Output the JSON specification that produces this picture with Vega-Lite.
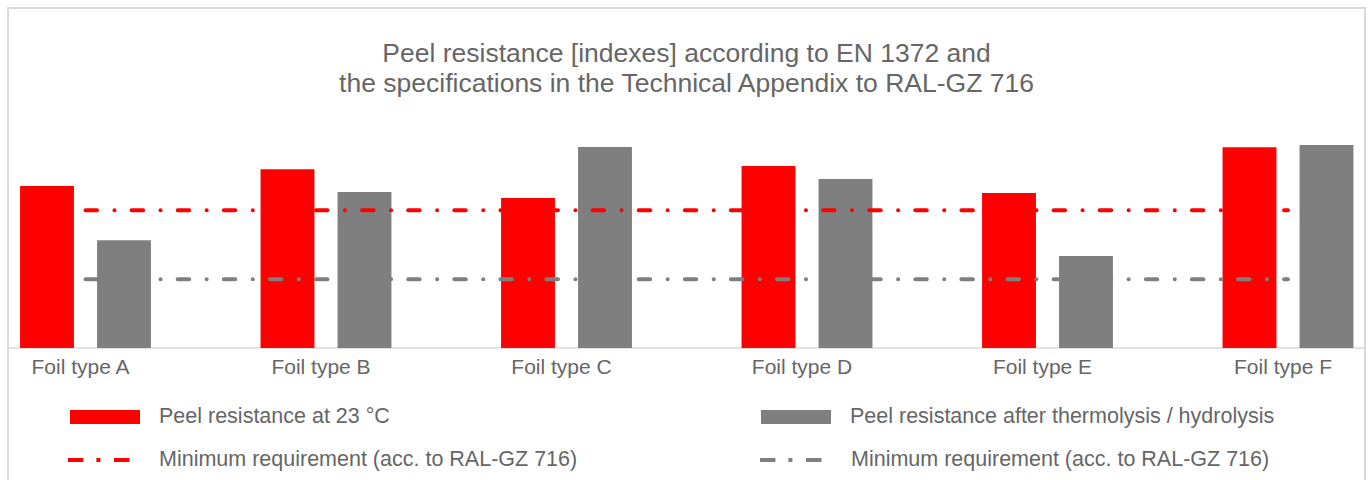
{
  "$schema": "https://vega.github.io/schema/vega-lite/v6.json",
  "width": 1357,
  "height": 475,
  "autosize": {"type": "none"},
  "padding": {"left": 8, "top": 8, "right": 5, "bottom": -3},
  "background": "white",
  "config": {
    "view": {"stroke": "#d9d9d9", "strokeWidth": 2},
    "font": "Liberation Sans"
  },
  "title": {
    "text": ["Peel resistance [indexes] according to EN 1372 and", "the specifications in the Technical Appendix to RAL-GZ 716"],
    "anchor": "middle",
    "offset": -116,
    "baseline": "bottom",
    "fontSize": 26.5,
    "lineHeight": 30,
    "font": "Liberation Sans",
    "fontWeight": "normal",
    "color": "#666666"
  },
  "layer": [
    {
      "data": {"values": [{}]},
      "mark": {"type": "rule", "color": "#d9d9d9", "strokeWidth": 1.5},
      "encoding": {"y": {"datum": 0, "type": "quantitative", "axis": null}}
    },
    {
      "data": {"values": [
        {"foil": "Foil type A", "series": "Peel resistance at 23 °C", "index": 117.6},
        {"foil": "Foil type A", "series": "Peel resistance after thermolysis / hydrolysis", "index": 78.2},
        {"foil": "Foil type B", "series": "Peel resistance at 23 °C", "index": 129.8},
        {"foil": "Foil type B", "series": "Peel resistance after thermolysis / hydrolysis", "index": 113.3},
        {"foil": "Foil type C", "series": "Peel resistance at 23 °C", "index": 108.9},
        {"foil": "Foil type C", "series": "Peel resistance after thermolysis / hydrolysis", "index": 146.0},
        {"foil": "Foil type D", "series": "Peel resistance at 23 °C", "index": 132.2},
        {"foil": "Foil type D", "series": "Peel resistance after thermolysis / hydrolysis", "index": 122.7},
        {"foil": "Foil type E", "series": "Peel resistance at 23 °C", "index": 112.6},
        {"foil": "Foil type E", "series": "Peel resistance after thermolysis / hydrolysis", "index": 66.8},
        {"foil": "Foil type F", "series": "Peel resistance at 23 °C", "index": 145.8},
        {"foil": "Foil type F", "series": "Peel resistance after thermolysis / hydrolysis", "index": 147.4}
      ]},
      "mark": {"type": "bar"},
      "encoding": {
        "x": {
          "field": "foil",
          "type": "nominal",
          "title": null,
          "scale": {"range": [-42.75, 1400.25], "paddingInner": 0, "paddingOuter": 0},
          "axis": {
            "orient": "bottom",
            "offset": -135,
            "domain": false,
            "ticks": false,
            "grid": false,
            "labelAngle": 0,
            "labelPadding": 8,
            "labelOffset": -5,
            "labelFont": "Liberation Sans",
            "labelFontSize": 21,
            "labelColor": "#666666"
          }
        },
        "xOffset": {
          "field": "series",
          "type": "nominal",
          "scale": {"domain": ["Peel resistance at 23 °C", "Peel resistance after thermolysis / hydrolysis"], "paddingInner": 0.3, "paddingOuter": 0.712}
        },
        "y": {
          "field": "index",
          "type": "quantitative",
          "scale": {"domain": [0, 246.9], "range": [340, 0], "nice": false, "zero": true},
          "axis": null
        },
        "color": {
          "field": "series",
          "type": "nominal",
          "scale": {
            "domain": ["Peel resistance at 23 °C", "Peel resistance after thermolysis / hydrolysis"],
            "range": ["#ff0000", "#7f7f7f"]
          },
          "legend": {
            "title": null,
            "orient": "none",
            "legendX": 62,
            "legendY": 398,
            "padding": 0,
            "columns": 2,
            "columnPadding": 371,
            "clipHeight": 22,
            "symbolSize": 4900,
            "symbolStrokeWidth": 0,
            "symbolType": "M-1,-0.2H1V0.2H-1Z",
            "symbolOffset": 0,
            "symbolOpacity": 1,
            "labelOffset": 19,
            "labelLimit": 0,
            "labelFont": "Liberation Sans",
            "labelFontSize": 21.5,
            "labelColor": "#666666"
          }
        }
      }
    },
    {
      "data": {"values": [
        {"foil": "Foil type A", "series": "Minimum requirement (acc. to RAL-GZ 716) · 23 °C", "index": 100},
        {"foil": "Foil type B", "series": "Minimum requirement (acc. to RAL-GZ 716) · 23 °C", "index": 100},
        {"foil": "Foil type C", "series": "Minimum requirement (acc. to RAL-GZ 716) · 23 °C", "index": 100},
        {"foil": "Foil type D", "series": "Minimum requirement (acc. to RAL-GZ 716) · 23 °C", "index": 100},
        {"foil": "Foil type E", "series": "Minimum requirement (acc. to RAL-GZ 716) · 23 °C", "index": 100},
        {"foil": "Foil type F", "series": "Minimum requirement (acc. to RAL-GZ 716) · 23 °C", "index": 100},
        {"foil": "Foil type A", "series": "Minimum requirement (acc. to RAL-GZ 716) · thermolysis / hydrolysis", "index": 50},
        {"foil": "Foil type B", "series": "Minimum requirement (acc. to RAL-GZ 716) · thermolysis / hydrolysis", "index": 50},
        {"foil": "Foil type C", "series": "Minimum requirement (acc. to RAL-GZ 716) · thermolysis / hydrolysis", "index": 50},
        {"foil": "Foil type D", "series": "Minimum requirement (acc. to RAL-GZ 716) · thermolysis / hydrolysis", "index": 50},
        {"foil": "Foil type E", "series": "Minimum requirement (acc. to RAL-GZ 716) · thermolysis / hydrolysis", "index": 50},
        {"foil": "Foil type F", "series": "Minimum requirement (acc. to RAL-GZ 716) · thermolysis / hydrolysis", "index": 50}
      ]},
      "mark": {"type": "line", "strokeWidth": 4, "strokeDash": [11.5, 17.4, 0.1, 17.1], "strokeCap": "round"},
      "encoding": {
        "x": {
          "field": "foil",
          "type": "nominal",
          "title": null,
          "axis": {
            "orient": "bottom",
            "offset": -135,
            "domain": false,
            "ticks": false,
            "grid": false,
            "labelAngle": 0,
            "labelPadding": 8,
            "labelOffset": -5,
            "labelFont": "Liberation Sans",
            "labelFontSize": 21,
            "labelColor": "#666666"
          }
        },
        "y": {"field": "index", "type": "quantitative", "axis": null},
        "stroke": {
          "field": "series",
          "type": "nominal",
          "scale": {
            "domain": ["Minimum requirement (acc. to RAL-GZ 716) · 23 °C", "Minimum requirement (acc. to RAL-GZ 716) · thermolysis / hydrolysis"],
            "range": ["#ff0000", "#7f7f7f"]
          },
          "legend": {
            "title": null,
            "orient": "none",
            "legendX": 60,
            "legendY": 441,
            "padding": 0,
            "columns": 2,
            "columnPadding": 182,
            "clipHeight": 22,
            "symbolSize": 4900,
            "symbolStrokeWidth": 4,
            "symbolType": "M-1.06,0H0.72",
            "symbolDash": [15.5, 13, 4, 13.6],
            "symbolFillColor": "transparent",
            "symbolOffset": 0,
            "symbolOpacity": 1,
            "labelOffset": 17,
            "labelLimit": 0,
            "labelFont": "Liberation Sans",
            "labelFontSize": 21.5,
            "labelColor": "#666666",
            "labelExpr": "split(datum.label, ' · ')[0]"
          }
        }
      }
    }
  ]
}
